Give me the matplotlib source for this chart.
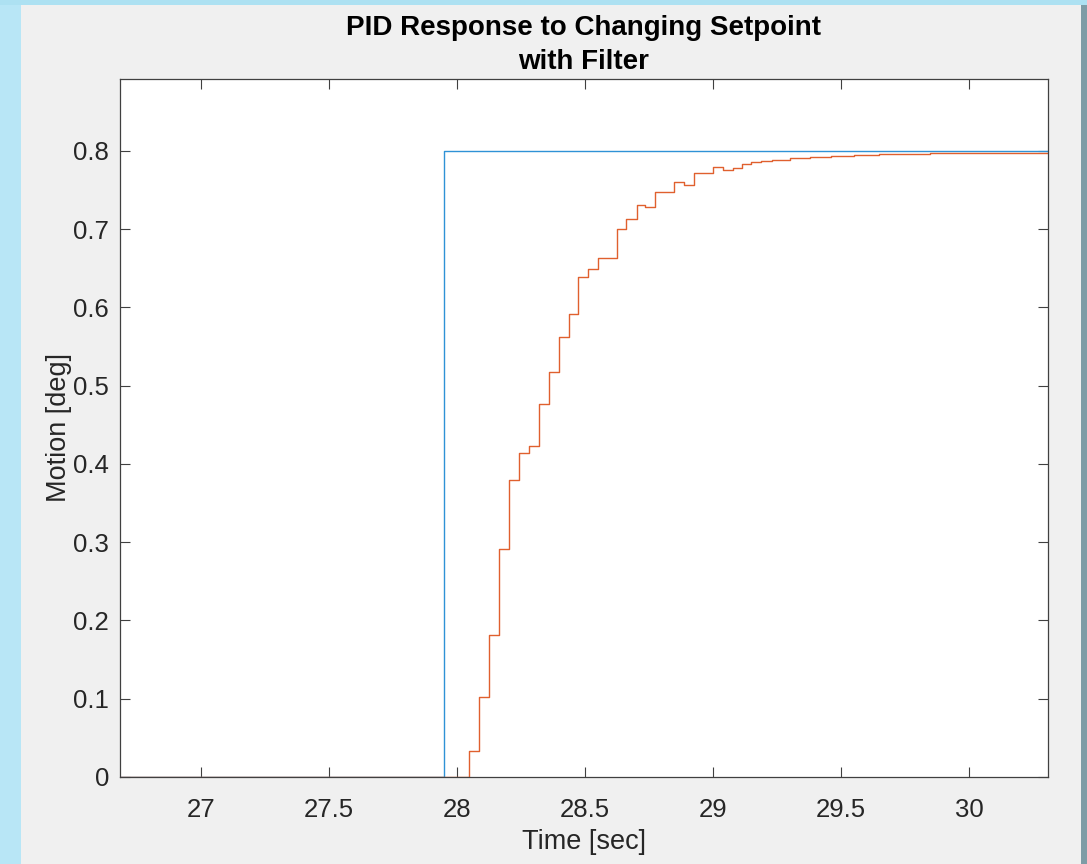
import matplotlib.pyplot as plt
import numpy as np
from matplotlib.patches import Rectangle

# setpoint
sp_time = [26.6, 27.949, 27.949, 30.4]
sp_val = [0.0, 0.0, 0.8, 0.8]

# filtered response (zero-order hold steps)
resp_time = [26.6, 28.048, 28.086, 28.125, 28.165, 28.203, 28.241, 28.280, 28.319,
             28.358, 28.398, 28.436, 28.474, 28.514, 28.551, 28.588, 28.624, 28.662,
             28.702, 28.736, 28.775, 28.813, 28.850, 28.887, 28.926, 28.965, 29.001,
             29.038, 29.077, 29.113, 29.148, 29.186, 29.23, 29.30, 29.38, 29.46,
             29.55, 29.65, 29.75, 29.85, 29.95, 30.05, 30.15, 30.25, 30.4]
resp_val = [0.0, 0.033, 0.102, 0.182, 0.291, 0.380, 0.414, 0.4235, 0.477,
            0.518, 0.562, 0.592, 0.639, 0.649, 0.663, 0.663, 0.700, 0.7127,
            0.7306, 0.7284, 0.748, 0.748, 0.760, 0.757, 0.772, 0.7715, 0.779,
            0.7757, 0.7787, 0.783, 0.786, 0.7875, 0.789, 0.791, 0.7925, 0.794,
            0.795, 0.7958, 0.7965, 0.797, 0.7972, 0.7975, 0.7972, 0.7975, 0.7975]

x_ticks = [27, 27.5, 28, 28.5, 29, 29.5, 30]
y_ticks = [0, 0.1, 0.2, 0.3, 0.4, 0.5, 0.6, 0.7, 0.8]

plt.rcParams['font.family'] = ['Liberation Sans', 'DejaVu Sans']

fig = plt.figure(figsize=(10.87, 8.64), dpi=100, facecolor='#F0F0F0')
# window frame around the figure
fig.patches.append(Rectangle((0, 0), 21 / 1087, 1, transform=fig.transFigure,
                             facecolor='#B8E6F6', edgecolor='none', zorder=-1))
fig.patches.append(Rectangle((0, 1 - 5 / 864), 1, 5 / 864, transform=fig.transFigure,
                             facecolor='#ADE1F2', edgecolor='none', zorder=-1))
fig.patches.append(Rectangle((1081 / 1087, 0), 6 / 1087, 1 - 5 / 864, transform=fig.transFigure,
                             facecolor='#7E9CA6', edgecolor='none', zorder=-1))

ax = fig.add_axes([120 / 1087, 1 - 777 / 864, 928 / 1087, 698 / 864])
ax.set_facecolor('white')

ax.step(sp_time, sp_val, where='post', color='#2F92D6', lw=1.0)
ax.step(resp_time, resp_val, where='post', color='#E0602E', lw=1.0)

ax.set_xlim(26.684, 30.309)
ax.set_ylim(0, 0.892)
ax.set_xticks(x_ticks)
ax.set_xticklabels(['27', '27.5', '28', '28.5', '29', '29.5', '30'])
ax.set_yticks(y_ticks)
ax.set_yticklabels(['0', '0.1', '0.2', '0.3', '0.4', '0.5', '0.6', '0.7', '0.8'])

for s in ax.spines.values():
    s.set_color('#404040')
    s.set_linewidth(0.9)
ax.tick_params(direction='in', length=7, width=0.8, color='#404040',
               top=True, right=True, labelsize=18.5, labelcolor='#262626', pad=8)
ax.tick_params(axis='x', pad=15)

ax.set_title('PID Response to Changing Setpoint\nwith Filter', fontsize=20,
             fontweight='bold', color='black', pad=7, linespacing=1.4)
ax.set_xlabel('Time [sec]', fontsize=19.5, color='#262626', labelpad=5)
ax.set_ylabel('Motion [deg]', fontsize=19.5, color='#262626', labelpad=1)

fig.savefig('out.png', dpi=100, facecolor=fig.get_facecolor())
